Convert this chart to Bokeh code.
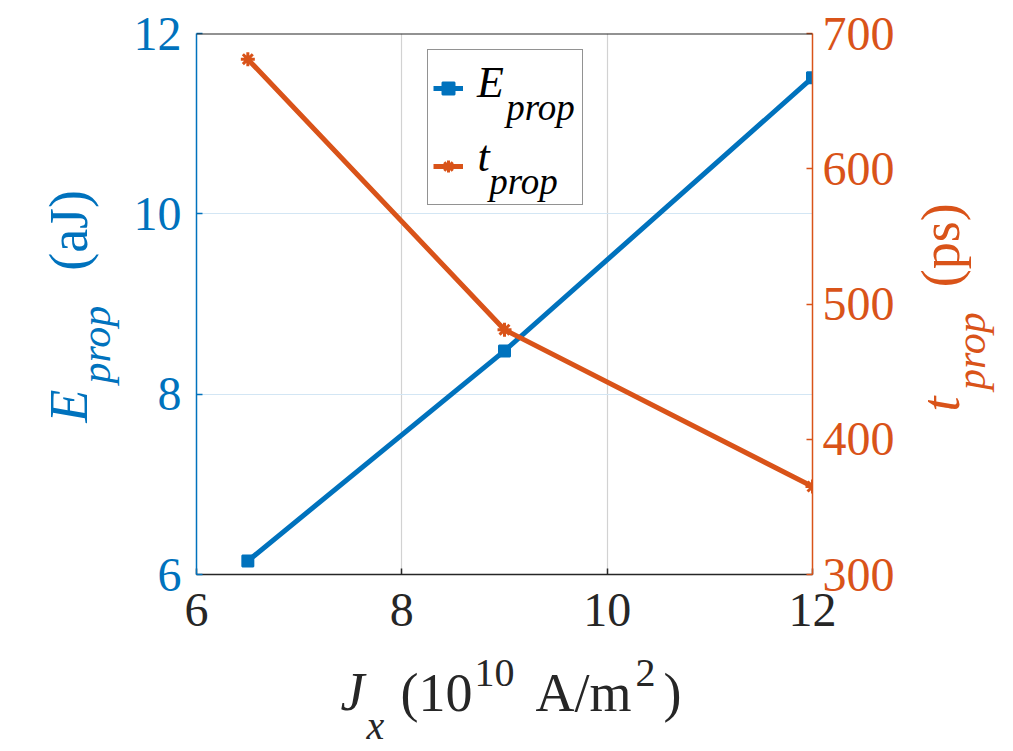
import math
from bokeh.plotting import figure
from bokeh.models import (Range1d, LinearAxis, Label, Legend, LegendItem,
                          Span, FixedTicker)
from bokeh.layouts import row, column
from bokeh.core.properties import value
from bokeh.embed import file_html
from bokeh.resources import INLINE

# ---- data ----
jx = [6.5, 9.0, 12.0]
e_prop = [6.15, 8.48, 11.51]
t_prop = [681, 481, 365]
x_ticks = [6, 8, 10, 12]
e_ticks = [6, 8, 10, 12]
t_ticks = [300, 400, 500, 600, 700]
x_grid = [8, 10]
e_grid = [8, 10]

BLUE = "#0072BD"
ORANGE = "#D95319"
DARK = "#262626"
FONT = "Liberation Serif"
K = 0.39  # distance from text middle to baseline, in font sizes

# page layout (pixels)
LEFT_W = 130
MAIN_BL, MAIN_BR, MAIN_BT, MAIN_BB = 66, 100, 33, 73
FW, FH = 616, 541
MAIN_W = MAIN_BL + FW + MAIN_BR
MAIN_H = MAIN_BT + FH + MAIN_BB
RIGHT_W = 95
TOTAL_W = LEFT_W + MAIN_W + RIGHT_W
BOTTOM_H = 751 - MAIN_H

p = figure(frame_width=FW, frame_height=FH, title=None,
           min_border_left=MAIN_BL, min_border_right=MAIN_BR,
           min_border_top=MAIN_BT, min_border_bottom=MAIN_BB,
           x_range=Range1d(6, 12), y_range=Range1d(6, 12),
           output_backend="svg", toolbar_location=None)
p.outline_line_color = None
p.background_fill_color = "white"
p.border_fill_color = "white"
p.extra_y_ranges = {"t": Range1d(300, 700)}


def style_axis(ax, color, standoff):
    ax.axis_line_color = color
    ax.axis_line_width = 1.5
    ax.major_tick_line_color = color
    ax.major_tick_line_width = 1.5
    ax.major_tick_in = 6
    ax.major_tick_out = 0
    ax.minor_tick_line_color = None
    ax.major_label_text_font = FONT
    ax.major_label_text_font_size = "48px"
    ax.major_label_text_color = color
    ax.major_label_standoff = standoff


xa = p.xaxis[0]
xa.ticker = FixedTicker(ticks=x_ticks)
style_axis(xa, DARK, 19)
ya = p.yaxis[0]
ya.ticker = FixedTicker(ticks=e_ticks)
style_axis(ya, BLUE, 15)
ra = LinearAxis(y_range_name="t", ticker=FixedTicker(ticks=t_ticks))
style_axis(ra, ORANGE, 10)
p.add_layout(ra, "right")

# grids
p.xgrid.ticker = FixedTicker(ticks=x_grid)
p.xgrid.grid_line_color = "#D2D2D2"
p.xgrid.grid_line_width = 1.2
p.ygrid.ticker = FixedTicker(ticks=e_grid)
p.ygrid.grid_line_color = "#D3E6F4"
p.ygrid.grid_line_width = 1.2

# top box line
p.add_layout(Span(location=12, dimension="width", line_color=DARK, line_width=2))

# series
bl = p.line(jx, e_prop, line_color=BLUE, line_width=5)
bs = p.scatter(jx, e_prop, marker="square", size=11, fill_color=BLUE,
               line_color=BLUE, line_width=2)
ol = p.line(jx, t_prop, y_range_name="t", line_color=ORANGE, line_width=5)
osc = p.scatter(jx, t_prop, y_range_name="t", marker="asterisk", size=14,
                line_color=ORANGE, line_width=3)

legend = Legend(items=[LegendItem(label=" ", renderers=[bl, bs]),
                       LegendItem(label=" ", renderers=[ol, osc])],
                location=(231, 369), orientation="vertical",
                padding=5, spacing=12, margin=0,
                glyph_width=30, glyph_height=66,
                label_width=101, label_height=66, label_standoff=13,
                label_text_font=FONT, label_text_font_size="20px",
                border_line_color=DARK, border_line_width=1.5,
                background_fill_color="white", background_fill_alpha=0.0)
p.add_layout(legend)

# page-pixel -> data mapping inside the main figure
FX0 = LEFT_W + MAIN_BL
FY0 = MAIN_BT


def fx(xp):
    return 6 + (xp - FX0) * 6.0 / FW


def fy(yp):
    return 6 + (FY0 + FH - yp) * 6.0 / FH


def leg_txt(xc, base, s, size):
    # xc: horizontal centre, base: baseline (page pixels)
    p.add_layout(Label(x=fx(xc), y=fy(base - K * size), text=s, text_font=FONT,
                       text_font_size=f"{size}px", text_font_style="italic",
                       text_color="black", text_align="center",
                       text_baseline="middle", level="overlay"))


leg_txt(490, 99, "E", 44)
leg_txt(540, 121, "prop", 37)
leg_txt(483, 173, "t", 44)
leg_txt(523, 195, "prop", 37)


# text-only figures around the main plot, in page-pixel coordinates
def text_fig(w, h, x0, y0):
    f = figure(width=w, height=h, title=None, x_range=Range1d(x0, x0 + w),
               y_range=Range1d(-(y0 + h), -y0), min_border=0,
               x_axis_type=None, y_axis_type=None,
               output_backend="svg", toolbar_location=None)
    f.outline_line_color = None
    f.background_fill_color = "white"
    f.border_fill_color = "white"
    return f


def put_h(f, xc, base, s, size, color, italic=False):
    # horizontal text: xc centre, base baseline
    f.text(x=[xc], y=[-(base - K * size)], text=[s],
           text_font=value(FONT), text_font_size=value(f"{size}px"),
           text_font_style="italic" if italic else "normal",
           text_color=color, text_align="center", text_baseline="middle")


def put_v(f, base, yc, s, size, color, italic=False):
    # text rotated 90deg CCW: base = baseline x, yc = centre along reading direction
    yc_in = (yc - 42) / 0.79  # empirical correction for the side panels
    f.text(x=[base - K * size], y=[-yc_in], text=[s], angle=math.pi / 2,
           text_font=value(FONT), text_font_size=value(f"{size}px"),
           text_font_style="italic" if italic else "normal",
           text_color=color, text_align="center", text_baseline="middle")


lf = text_fig(LEFT_W, MAIN_H, 0, 0)
put_v(lf, 90, 394, "E", 54, BLUE, italic=True)
put_v(lf, 112, 336, "prop", 42, BLUE, italic=True)
put_v(lf, 90, 228, "(aJ)", 54, BLUE)

rf = text_fig(RIGHT_W, MAIN_H, LEFT_W + MAIN_W, 0)
put_v(rf, 962, 392, "t", 54, ORANGE, italic=True)
put_v(rf, 987, 342, "prop", 42, ORANGE, italic=True)
put_v(rf, 962, 242, "(ps)", 54, ORANGE)

bf = text_fig(TOTAL_W, BOTTOM_H, 0, MAIN_H)
put_h(bf, 352, 713, "J", 54, DARK, italic=True)
put_h(bf, 375, 741, "x", 40, DARK, italic=True)
put_h(bf, 436, 714, "(10", 54, DARK)
put_h(bf, 494, 688, "10", 40, DARK)
put_h(bf, 583, 714, "A/m", 54, DARK)
put_h(bf, 645, 688, "2", 40, DARK)
put_h(bf, 672, 714, ")", 54, DARK)

layout = column(row(lf, p, rf, spacing=0), bf, spacing=0)

open("out.html", "w").write(file_html(layout, INLINE))
